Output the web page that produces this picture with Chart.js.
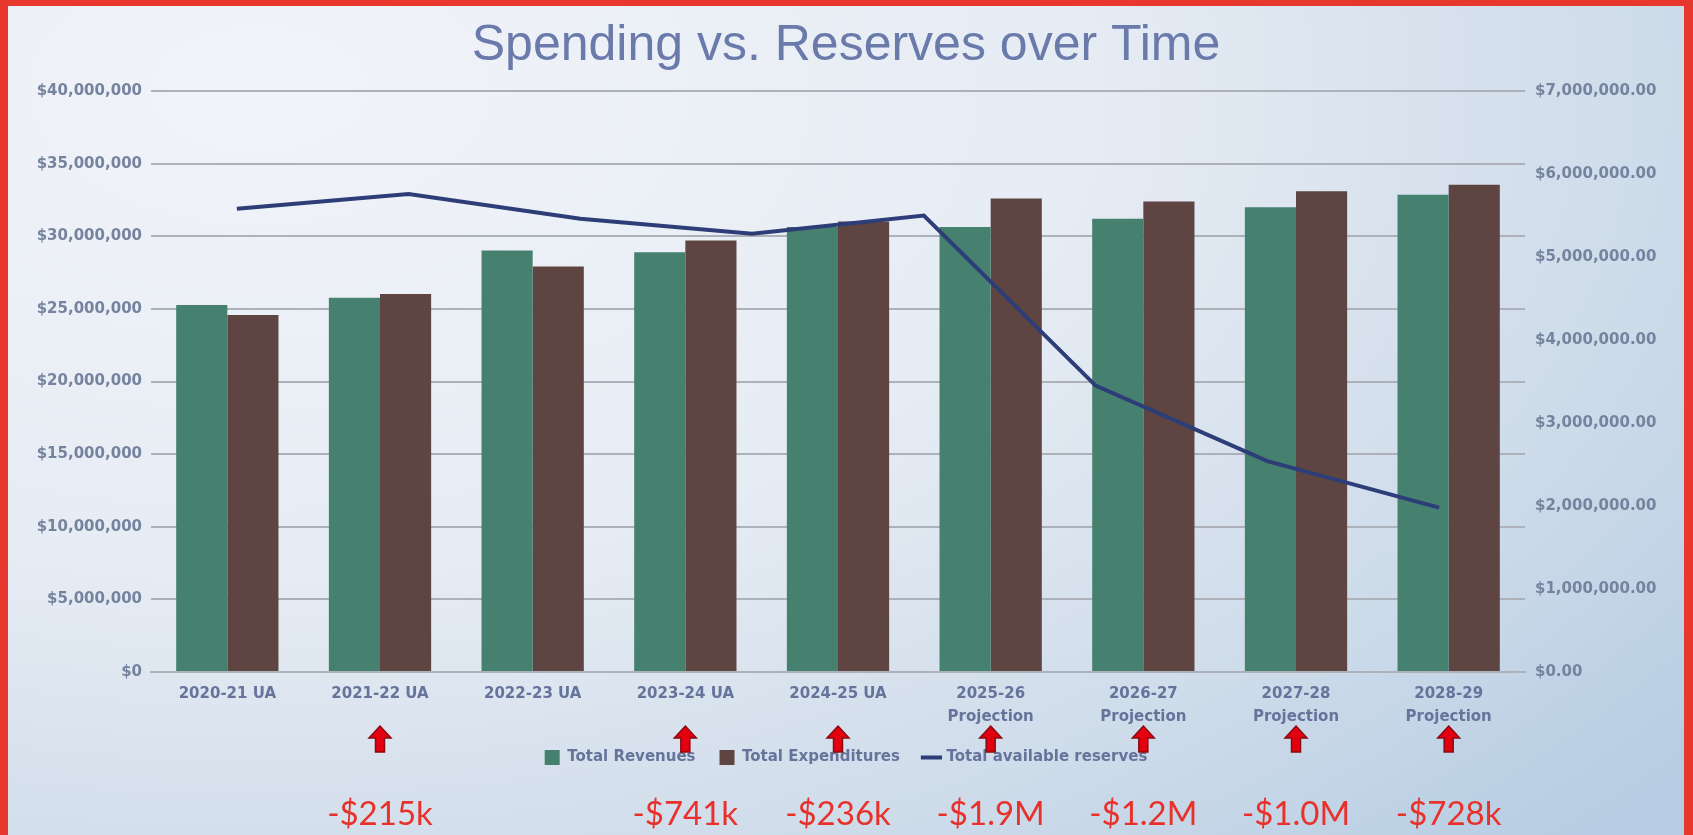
<!DOCTYPE html>
<html lang="en">
  <head>
    <meta charset="UTF-8" />
    <title>Spending vs. Reserves over Time</title>
    <script src="https://cdn.jsdelivr.net/npm/chart.js"></script>
    <style>
      html, body {
        margin: 0;
        padding: 0;
        width: 1693px;
        height: 835px;
        overflow: hidden;
        background: #e8372c;
      }
      #frame {
        position: absolute;
        left: 8px;
        top: 6px;
        width: 1676px;
        height: 829px;
        background: radial-gradient(ellipse 110% 130% at 15% 10%, #f1f4f9 0%, #e6ecf4 45%, #cfdcea 75%, #b6cde3 100%);
      }
    </style>
  </head>
  <body>
    <div id="frame">
      <canvas id="reservesChart" width="1676" height="829"></canvas>
    </div>

    <script>
      // values
      const categories = [
        "2020-21 UA", "2021-22 UA", "2022-23 UA", "2023-24 UA", "2024-25 UA",
        ["2025-26", "Projection"], ["2026-27", "Projection"], ["2027-28", "Projection"], ["2028-29", "Projection"],
      ];
      const totalRevenues = [25270000, 25760000, 29020000, 28900000, 30630000, 30630000, 31200000, 32000000, 32850000];
      const totalExpenditures = [24580000, 26030000, 27920000, 29710000, 31020000, 32600000, 32400000, 33100000, 33550000];

      // in the original the reserves line has 8 evenly spread points across the same width
      const availableReserves = [5580000, 5760000, 5460000, 5280000, 5500000, 3450000, 2540000, 1980000];

      const deficitLabels = ["", "-$215k", "", "-$741k", "-$236k", "-$1.9M", "-$1.2M", "-$1.0M", "-$728k"];

      const axisText = "#66739a";
      const gridGray = "#adb1b9";

      // x runs -0.5 .. n-0.5 so each category sits on an integer
      const nCat = categories.length;
      const nRes = availableReserves.length;
      const barPoints = (vals) => vals.map((v, i) => ({ x: i, y: v }));
      const reservePoints = availableReserves.map((v, i) => ({ x: ((i + 0.5) * nCat) / nRes - 0.5, y: v }));

      function withCommas(n) {
        return n.toFixed(0).replace(/\B(?=(\d{3})+(?!\d))/g, ",");
      }

      function drawArrow(ctx, cx, tipY) {
        ctx.save();
        ctx.beginPath();
        ctx.moveTo(cx, tipY);
        ctx.lineTo(cx + 11, tipY + 12);
        ctx.lineTo(cx + 4.5, tipY + 12);
        ctx.lineTo(cx + 4.5, tipY + 26);
        ctx.lineTo(cx - 4.5, tipY + 26);
        ctx.lineTo(cx - 4.5, tipY + 12);
        ctx.lineTo(cx - 11, tipY + 12);
        ctx.closePath();
        ctx.fillStyle = "#e3000f";
        ctx.fill();
        ctx.lineWidth = 1.5;
        ctx.strokeStyle = "#8a0a10";
        ctx.stroke();
        ctx.restore();
      }

      // red arrows + shortfall amounts under the axis
      const deficitNotes = {
        id: "deficitNotes",
        afterDraw(chart) {
          const { ctx, chartArea, scales } = chart;
          deficitLabels.forEach((txt, i) => {
            if (!txt) return;
            const cx = scales.x.getPixelForValue(i);
            drawArrow(ctx, cx, chartArea.bottom + 54);
            ctx.save();
            ctx.font = "33px Lato";
            ctx.fillStyle = "#e8312b";
            ctx.textAlign = "center";
            ctx.textBaseline = "middle";
            ctx.fillText(txt, cx, chartArea.bottom + 142);
            ctx.restore();
          });
        },
      };

      const ctx = document.getElementById("reservesChart").getContext("2d");
      new Chart(ctx, {
        data: {
          datasets: [
            {
              type: "bar",
              label: "Total Revenues",
              data: barPoints(totalRevenues),
              backgroundColor: "#46806e",
              yAxisID: "y",
              order: 1,
            },
            {
              type: "bar",
              label: "Total Expenditures",
              data: barPoints(totalExpenditures),
              backgroundColor: "#5e4541",
              yAxisID: "y",
              order: 1,
            },
            {
              type: "line",
              label: "Total available reserves",
              data: reservePoints,
              borderColor: "#2d3d78",
              backgroundColor: "#2d3d78",
              borderWidth: 4,
              pointRadius: 0,
              tension: 0,
              yAxisID: "y2",
              order: 0,
            },
          ],
        },
        options: {
          responsive: false,
          animation: false,
          layout: { padding: { left: 0, right: 0, top: 0, bottom: 60 } },
          datasets: {
            bar: { barPercentage: 1.0, categoryPercentage: 0.67 },
          },
          plugins: {
            title: {
              display: true,
              text: "Spending vs. Reserves over Time",
              color: "#6a7aab",
              font: { family: "Liberation Sans", size: 50, weight: "normal" },
              padding: { top: 10, bottom: 15 },
            },
            legend: {
              position: "bottom",
              labels: {
                color: axisText,
                font: { family: "DejaVu Sans", size: 15, weight: "bold" },
                padding: 24,
                usePointStyle: true,
                sort: (a, b) => a.datasetIndex - b.datasetIndex,
                generateLabels(chart) {
                  const items = Chart.defaults.plugins.legend.labels.generateLabels(chart);
                  items.forEach((it) => {
                    it.pointStyle = it.datasetIndex === 2 ? "line" : "rect";
                  });
                  return items;
                },
              },
            },
            tooltip: { enabled: false },
          },
          scales: {
            x: {
              type: "linear",
              bounds: "data",
              offset: false,
              min: -0.5,
              max: nCat - 0.5,
              grid: { display: false, drawTicks: false, offset: false },
              border: { display: true, color: gridGray, width: 2 },
              ticks: {
                stepSize: 1,
                color: axisText,
                font: { family: "DejaVu Sans", size: 15, weight: "bold", lineHeight: 1.5 },
                padding: 11,
                maxRotation: 0,
                autoSkip: false,
                callback: (v) => categories[v],
              },
              // one tick per category
              afterBuildTicks(scale) {
                scale.ticks = categories.map((_, i) => ({ value: i }));
              },
              afterFit(scale) {
                scale.height = scale.height - 13;
              },
            },
            y: {
              position: "left",
              min: 0,
              max: 40000000,
              ticks: {
                stepSize: 5000000,
                color: "#76839f",
                font: { family: "DejaVu Sans", size: 15, weight: "bold" },
                padding: 9,
                callback: (v) => "$" + withCommas(v),
              },
              grid: { color: gridGray, lineWidth: 2, drawTicks: false },
              border: { display: false },
              afterFit(scale) {
                scale.width = 143;
              },
            },
            y2: {
              position: "right",
              min: 0,
              max: 7000000,
              ticks: {
                stepSize: 1000000,
                color: "#76839f",
                font: { family: "DejaVu Sans", size: 15, weight: "bold" },
                padding: 10,
                callback: (v) => "$" + withCommas(v) + ".00",
              },
              grid: { display: false, drawTicks: false },
              border: { display: false },
              afterFit(scale) {
                scale.width = 159;
              },
            },
          },
        },
        plugins: [deficitNotes],
      });
    </script>
  </body>
</html>
